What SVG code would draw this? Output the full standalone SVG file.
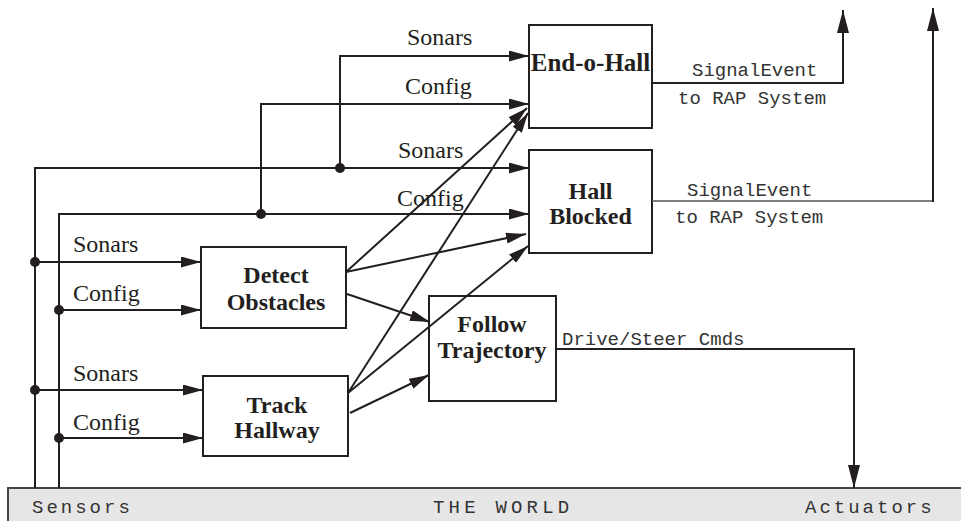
<svg xmlns="http://www.w3.org/2000/svg" width="961" height="521" viewBox="0 0 961 521">
  <style>
    .box { fill: none; stroke: #231f20; stroke-width: 2; }
    .lbl { font-family: "Liberation Serif", "Times New Roman", serif; font-weight: bold; font-size: 24px; fill: #231f20; text-anchor: middle; }
    .sig { font-family: "Liberation Serif", "Times New Roman", serif; font-size: 24px; fill: #231f20; }
    .mono { font-family: "Liberation Mono", "Courier New", monospace; font-size: 19px; fill: #333333; }
    .world { font-family: "Liberation Mono", "Courier New", monospace; font-size: 19px; fill: #333333; letter-spacing: 3px; }
    .wire { fill: none; stroke: #231f20; stroke-width: 2; }
    .arr { marker-end: url(#head); }
    .varr { marker-end: url(#vhead); }
    .dot { fill: #231f20; }
  </style>
  <defs>
    <marker id="head" markerUnits="userSpaceOnUse" markerWidth="20" markerHeight="11" refX="20" refY="5.5" orient="auto">
      <path d="M0,0 L20,5.5 L0,11 Z" fill="#231f20"/>
    </marker>
    <marker id="vhead" markerUnits="userSpaceOnUse" markerWidth="23" markerHeight="12" refX="23" refY="6" orient="auto">
      <path d="M0,0 L23,6 L0,12 Z" fill="#231f20"/>
    </marker>
  </defs>

  <!-- environment bar -->
  <g id="world">
    <rect x="8" y="488" width="960" height="40" fill="#e6e6e6" stroke="#444444" stroke-width="2"/>
    <text class="world" x="32" y="513">Sensors</text>
    <text class="world" x="433" y="513" style="letter-spacing:4.2px">THE WORLD</text>
    <text class="world" x="805" y="513">Actuators</text>
  </g>

  <!-- behaviours -->
  <g id="end-o-hall">
    <rect class="box" x="529" y="25" width="123" height="103"/>
    <text class="lbl" x="590.5" y="71" style="font-size:25px">End-o-Hall</text>
  </g>
  <g id="hall-blocked">
    <rect class="box" x="529" y="150" width="123" height="103"/>
    <text class="lbl" x="590.5" y="199">Hall</text>
    <text class="lbl" x="590.5" y="224">Blocked</text>
  </g>
  <g id="detect-obstacles">
    <rect class="box" x="201" y="247" width="145" height="81"/>
    <text class="lbl" x="276" y="283">Detect</text>
    <text class="lbl" x="276" y="310">Obstacles</text>
  </g>
  <g id="track-hallway">
    <rect class="box" x="203" y="376" width="145" height="80"/>
    <text class="lbl" x="277" y="413">Track</text>
    <text class="lbl" x="277" y="438">Hallway</text>
  </g>
  <g id="follow-trajectory">
    <rect class="box" x="429" y="296" width="127" height="105"/>
    <text class="lbl" x="492" y="332">Follow</text>
    <text class="lbl" x="492" y="358">Trajectory</text>
  </g>

  <!-- connectors -->
  <g id="connectors">
    <!-- sensor buses -->
    <path class="wire arr" d="M35,488 V168 H529"/>
    <path class="wire arr" d="M59,488 V214 H529"/>
    <path class="wire arr" d="M340,168 V56 H529"/>
    <path class="wire arr" d="M261,214 V104 H529"/>
    <path class="wire arr" d="M35,262 H201"/>
    <path class="wire arr" d="M59,310 H201"/>
    <path class="wire arr" d="M35,390 H203"/>
    <path class="wire arr" d="M59,438 H203"/>
    <circle class="dot" cx="340" cy="168" r="5"/>
    <circle class="dot" cx="261" cy="214" r="5"/>
    <circle class="dot" cx="35" cy="262" r="5"/>
    <circle class="dot" cx="59" cy="310" r="5"/>
    <circle class="dot" cx="35" cy="390" r="5"/>
    <circle class="dot" cx="59" cy="438" r="5"/>

    <!-- behaviour outputs -->
    <path class="wire arr" d="M346,272 L527,108"/>
    <path class="wire arr" d="M346,272 L526,234"/>
    <path class="wire arr" d="M347,294 L430,322"/>
    <path class="wire arr" d="M348,393 L528,113"/>
    <path class="wire arr" d="M348,393 L528,246"/>
    <path class="wire arr" d="M350,413 L429,375"/>

    <!-- signals and commands -->
    <path class="wire varr" d="M652,83 H843 V10"/>
    <path class="wire" d="M652,201 H933" style="stroke:#555555;stroke-width:1.5"/>
    <path class="wire varr" d="M933,202 V8"/>
    <path class="wire varr" d="M556,349 H854 V488"/>

    <!-- labels -->
    <text class="sig" x="407" y="45">Sonars</text>
    <text class="sig" x="405" y="94">Config</text>
    <text class="sig" x="398" y="158">Sonars</text>
    <text class="sig" x="397" y="206">Config</text>
    <text class="sig" x="73" y="252">Sonars</text>
    <text class="sig" x="73" y="301">Config</text>
    <text class="sig" x="73" y="381">Sonars</text>
    <text class="sig" x="73" y="430">Config</text>
    <text class="mono" x="692" y="76">SignalEvent</text>
    <text class="mono" x="678" y="104">to RAP System</text>
    <text class="mono" x="687" y="196">SignalEvent</text>
    <text class="mono" x="675" y="223">to RAP System</text>
    <text class="mono" x="562" y="345">Drive/Steer Cmds</text>
  </g>
</svg>
